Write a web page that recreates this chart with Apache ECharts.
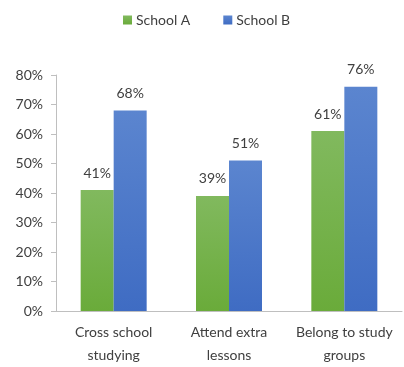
<!DOCTYPE html>
<html>
<head>
<meta charset="utf-8">
<script src="https://cdn.jsdelivr.net/npm/echarts@6/dist/echarts.min.js"></script>
<style>
html,body{margin:0;padding:0;background:#fff;}
#chart{width:404px;height:367px;}
</style>
</head>
<body>
<div id="chart"></div>
<script>
var categories = ['Cross school\nstudying', 'Attend extra\nlessons', 'Belong to study\ngroups'];
var schoolA = [41, 39, 61];
var schoolB = [68, 51, 76];
var yTicks = [0, 10, 20, 30, 40, 50, 60, 70, 80];

var font = 'Lato, "Open Sans", sans-serif';
var chart = echarts.init(document.getElementById('chart'));
chart.setOption({
  animation: false,
  textStyle: {fontFamily: font},
  legend: {
    top: 8,
    left: 118,
    itemWidth: 9,
    itemHeight: 9,
    itemGap: 33,
    icon: 'rect',
    textStyle: {fontFamily: font, fontSize: 14, color: '#404040', padding: [0, 0, 0, -1]},
    data: ['School A', 'School B']
  },
  grid: {left: 56, right: 2, top: 75, bottom: 54},
  xAxis: {
    type: 'category',
    data: categories,
    axisLine: {lineStyle: {color: '#bfbfbf', width: 1}},
    axisTick: {show: false},
    axisLabel: {color: '#404040', fontSize: 14, fontFamily: font, lineHeight: 23, margin: 10, interval: 0}
  },
  yAxis: {
    type: 'value',
    min: yTicks[0],
    max: yTicks[yTicks.length - 1],
    interval: 10,
    splitLine: {show: false},
    axisLine: {show: true, lineStyle: {color: '#bfbfbf', width: 1}},
    axisTick: {show: true, length: 5, lineStyle: {color: '#bfbfbf'}},
    axisLabel: {color: '#404040', fontSize: 14, fontFamily: font, margin: 13, formatter: '{value}%'}
  },
  series: [
    {
      name: 'School A',
      type: 'bar',
      data: schoolA,
      barWidth: 33,
      barGap: '0%',
      itemStyle: {
        color: new echarts.graphic.LinearGradient(0, 0, 0, 1, [
          {offset: 0, color: '#81b95e'},
          {offset: 1, color: '#6aab3a'}
        ])
      },
      label: {show: true, position: 'top', distance: 10, formatter: '{c}%', color: '#404040', fontSize: 14, fontFamily: font}
    },
    {
      name: 'School B',
      type: 'bar',
      data: schoolB,
      barWidth: 33,
      barGap: '0%',
      itemStyle: {
        color: new echarts.graphic.LinearGradient(0, 0, 0, 1, [
          {offset: 0, color: '#5b85cf'},
          {offset: 1, color: '#3f6cc3'}
        ])
      },
      label: {show: true, position: 'top', distance: 10, formatter: '{c}%', color: '#404040', fontSize: 14, fontFamily: font}
    }
  ]
});
</script>
</body>
</html>
